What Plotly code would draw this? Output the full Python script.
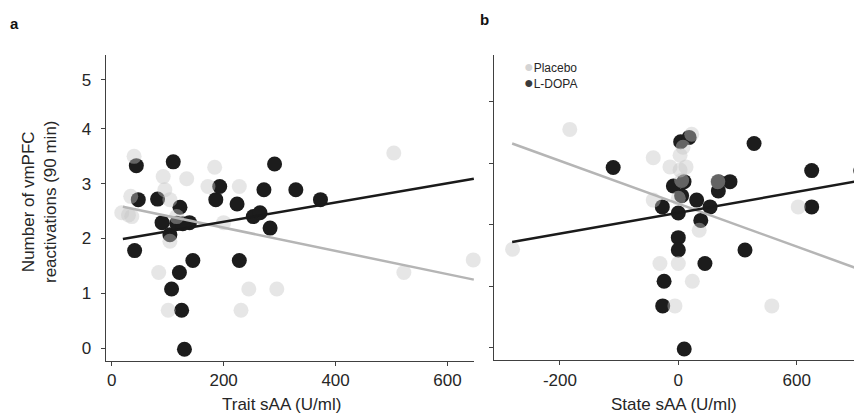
import plotly.graph_objects as go

# the page adds an 8px body margin, so the figure is 8px smaller and all
# reference pixel positions are shifted by that offset
OFF = 8
W, H = 862 - OFF, 414 - OFF

# ---------------- data: panel a (Trait sAA) ----------------
trait_ldopa_x = [44, 47.5, 82, 41, 110, 90, 104, 122, 116, 139, 127, 145, 121, 107, 125, 130,
                 186, 193, 224, 228, 253, 265, 283, 272, 291, 329, 373]
trait_ldopa_y = [3.33, 2.71, 2.72, 1.78, 3.40, 2.29, 2.07, 2.57, 2.28, 2.29, 2.27, 1.60, 1.38, 1.08, 0.69, -0.02,
                 2.71, 2.95, 2.63, 1.60, 2.40, 2.47, 2.19, 2.89, 3.36, 2.89, 2.71]
trait_placebo_x = [40, 34, 18, 36, 30, 92, 95, 104, 134, 116, 104, 84, 101, 184, 172, 200, 228, 245, 231,
                   295, 504, 522, 646]
trait_placebo_y = [3.50, 2.77, 2.47, 2.40, 2.43, 3.13, 2.89, 2.71, 3.09, 2.40, 1.95, 1.38, 0.69, 3.30, 2.95,
                   2.29, 2.95, 1.08, 0.69, 1.08, 3.56, 1.38, 1.61]
trait_fit_x = [20, 647]
trait_fit_ldopa_y = [1.99, 3.09]
trait_fit_placebo_y = [2.58, 1.25]

# ---------------- data: panel b (State sAA) ----------------
state_ldopa_x = [12, 55, 384, -330, 676, 925, -25, 29, 17, 93, -81, 0, 161, 114, 203, 203, 262, 0, 0,
                 135, 338, 676, -72, -79, 30]
state_ldopa_y = [3.35, 3.42, 3.32, 2.93, 2.88, 2.88, 2.63, 2.70, 2.47, 2.40, 2.29, 2.19, 2.29, 2.07, 2.55,
                 2.70, 2.70, 1.79, 1.59, 1.37, 1.59, 2.29, 1.08, 0.68, -0.02]
state_placebo_x = [-550, 68, 24, 9, -127, -42, 39, 9, 17, 200, 0, -127, 106, -93, 0, 71, -17, 474, 608,
                   -840, 931]
state_placebo_y = [3.55, 3.47, 3.26, 3.13, 3.09, 2.94, 2.94, 2.89, 2.72, 2.70, 2.43, 2.40, 1.91, 1.37, 1.37,
                   1.08, 0.68, 0.68, 2.29, 1.60, 1.08]
state_fit_x = [-842, 931]
state_fit_ldopa_y = [1.72, 2.72]
state_fit_placebo_y = [3.32, 1.26]

# ---------------- ticks ----------------
trait_xticks = [0, 200, 400, 600]
trait_xlabels = ["0", "200", "400", "600"]
trait_yticks = [0, 1, 2, 3, 4, 4.9]
trait_ylabels = ["0", "1", "2", "3", "4", "5"]
state_xticks = [-600, 0, 600]
state_xlabels = ["-200", "0", "600"]
state_yticks = [0, 1, 2, 3, 4]

DARK = "#1c1c1c"
LIGHT = "rgba(196,196,196,0.43)"
FONT = "Liberation Sans, Arial, sans-serif"
TXT = "#262626"
AX = "#404040"


def px_x(p):
    return (p - OFF) / W


def px_y(p):
    return 1 - (p - OFF) / H


fig = go.Figure()

for xa, ya, lx, ly, px_, py_, fx, fly, fpy in [
    ("x", "y", trait_ldopa_x, trait_ldopa_y, trait_placebo_x, trait_placebo_y,
     trait_fit_x, trait_fit_ldopa_y, trait_fit_placebo_y),
    ("x2", "y2", state_ldopa_x, state_ldopa_y, state_placebo_x, state_placebo_y,
     state_fit_x, state_fit_ldopa_y, state_fit_placebo_y),
]:
    clip = xa == "x2"
    fig.add_trace(go.Scatter(x=lx, y=ly, xaxis=xa, yaxis=ya, mode="markers", name="L-DOPA",
                             showlegend=False, cliponaxis=clip,
                             marker=dict(size=15, color=DARK, line=dict(width=0))))
    fig.add_trace(go.Scatter(x=px_, y=py_, xaxis=xa, yaxis=ya, mode="markers", name="Placebo",
                             showlegend=False, cliponaxis=clip,
                             marker=dict(size=15, color=LIGHT, line=dict(width=0))))
    fig.add_trace(go.Scatter(x=fx, y=fpy, xaxis=xa, yaxis=ya, mode="lines", showlegend=False,
                             line=dict(color="#b5b5b5", width=2.5)))
    fig.add_trace(go.Scatter(x=fx, y=fly, xaxis=xa, yaxis=ya, mode="lines", showlegend=False,
                             line=dict(color="#1a1a1a", width=2.5)))

axis_common = dict(showgrid=False, zeroline=False, showline=True, linecolor=AX, linewidth=1.4,
                   ticks="outside", ticklen=4, tickwidth=1.4, tickcolor=AX,
                   tickfont=dict(family=FONT, size=17, color=TXT))

fig.update_layout(
    width=W, height=H, margin=dict(l=0, r=0, t=0, b=0),
    paper_bgcolor="white", plot_bgcolor="white", showlegend=False,
    xaxis=dict(domain=[px_x(105.7), px_x(474)], range=[-10.7, 647.3], anchor="y",
               tickvals=trait_xticks, ticktext=trait_xlabels, ticklabelstandoff=0, **axis_common),
    yaxis=dict(domain=[px_y(360.7), px_y(55)], range=[-0.23, 5.35], anchor="x",
               tickvals=trait_yticks, ticktext=trait_ylabels, ticklabelstandoff=6, **axis_common),
    xaxis2=dict(domain=[px_x(494), 1.0], range=[-934, 931], anchor="y2",
                tickvals=state_xticks, ticktext=state_xlabels, ticklabelstandoff=0, **axis_common),
    yaxis2=dict(domain=[px_y(360), px_y(55)], range=[-0.2, 4.76], anchor="x2",
                tickvals=state_yticks, showticklabels=False, **axis_common),
)

ann = []
# panel letters
ann.append(dict(text="<b>a</b>", x=px_x(14), y=px_y(23), xref="paper", yref="paper",
                showarrow=False, xanchor="center", yanchor="middle",
                font=dict(family=FONT, size=15, color="#111")))
ann.append(dict(text="<b>b</b>", x=px_x(485), y=px_y(20), xref="paper", yref="paper",
                showarrow=False, xanchor="center", yanchor="middle",
                font=dict(family=FONT, size=15, color="#111")))
# axis titles
ann.append(dict(text="Number of vmPFC<br>reactivations (90 min)", x=px_x(39), y=px_y(202),
                xref="paper", yref="paper", showarrow=False, textangle=-90,
                xanchor="center", yanchor="middle",
                font=dict(family=FONT, size=17, color=TXT)))
ann.append(dict(text="Trait sAA (U/ml)", x=px_x(281), y=px_y(404), xref="paper", yref="paper",
                showarrow=False, xanchor="center", yanchor="middle",
                font=dict(family=FONT, size=17, color=TXT)))
ann.append(dict(text="State sAA (U/ml)", x=px_x(674), y=px_y(404), xref="paper", yref="paper",
                showarrow=False, xanchor="center", yanchor="middle",
                font=dict(family=FONT, size=17, color=TXT)))
# legend (single text block, two lines)
ann.append(dict(text="<span style='color:#d4d4d4;font-size:16px'>●</span>Placebo<br>"
                     "<span style='color:#3a3a3a;font-size:16px'>●</span>L-DOPA",
                x=px_x(522), y=px_y(75), xref="paper", yref="paper", showarrow=False,
                xanchor="left", yanchor="middle", align="left",
                font=dict(family=FONT, size=12, color=TXT)))
fig.update_layout(annotations=ann)

fig.write_html("out.html")
